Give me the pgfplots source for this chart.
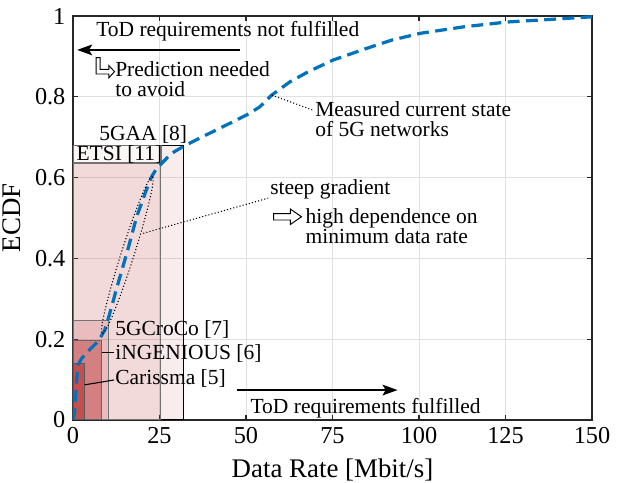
\documentclass[border=0pt]{standalone}
\usepackage{fontspec}
\setmainfont{Liberation Serif}
\usepackage{pgfplots}
\pgfplotsset{compat=1.18}
\usetikzlibrary{arrows.meta,shapes.geometric}

\definecolor{matblue}{RGB}{0,114,189}
\definecolor{boxred}{RGB}{192,64,64}
\definecolor{axgray}{RGB}{38,38,38}

% small hollow arrows used in the annotations
\newcommand{\hookarrow}{\tikz[baseline={(0,-2.3pt)},line width=0.45pt]{\draw (0,6.5pt)--(0,-1.1pt)--(6pt,-1.1pt)--(6pt,-2.8pt)--(8.6pt,0)--(6pt,2.8pt)--(6pt,1.1pt)--(1.9pt,1.1pt)--(1.9pt,6.5pt)--cycle;}}
\newcommand{\hollowarrow}{\tikz[line width=0.45pt]{\draw (0,1.5pt)--(7.8pt,1.5pt)--(7.8pt,3.6pt)--(13pt,0)--(7.8pt,-3.6pt)--(7.8pt,-1.5pt)--(0,-1.5pt)--cycle;}}

\begin{document}
\begin{tikzpicture}
\begin{axis}[
    scale only axis,
    width=241.4pt, height=187.9pt,
    xmin=0, xmax=150, ymin=0, ymax=1,
    xtick={0,25,...,150},
    ytick={0,0.2,0.4,0.6,0.8,1},
    yticklabels={0,0.2,0.4,0.6,0.8,1},
    grid=major,
    major grid style={draw=black!12, line width=0.4pt},
    axis line style={draw=axgray, line width=0.5pt},
    tick style={draw=axgray, line width=0.5pt},
    major tick length=2.5pt,
    tick align=inside,
    /pgf/number format/assume math mode=true,
    ticklabel style={font=\fontsize{11.3}{13}\selectfont},
    label style={font=\fontsize{12.5}{15}\selectfont},
    xlabel={Data Rate [Mbit/s]},
    ylabel={ECDF},
    every node near coord/.style={},
]

% requirement boxes (largest first)
\addplot[fill=boxred, fill opacity=0.1, draw=black, line width=0.5pt]
    coordinates {(0,0) (32,0) (32,0.68) (0,0.68)} -- cycle;
\addplot[fill=boxred, fill opacity=0.1, draw=black!55, line width=0.5pt]
    coordinates {(0,0) (25.3,0) (25.3,0.636) (0,0.636)} -- cycle;
\addplot[fill=boxred, fill opacity=0.19, draw=black!55, line width=0.5pt]
    coordinates {(0,0) (10.2,0) (10.2,0.247) (0,0.247)} -- cycle;
\addplot[fill=boxred, fill opacity=0.49, draw=black!60, line width=0.5pt]
    coordinates {(0,0) (8.3,0) (8.3,0.197) (0,0.197)} -- cycle;
\addplot[fill=boxred, fill opacity=0.78, draw=black!65, line width=0.5pt]
    coordinates {(0,0) (3.4,0) (3.4,0.14) (0,0.14)} -- cycle;

% ETSI label box
\addplot[fill=white, fill opacity=0.6, draw=black!55, line width=0.5pt]
    coordinates {(0,0.636) (25.6,0.636) (25.6,0.68) (0,0.68)} -- cycle;
\node[anchor=base west, inner sep=0] at (axis cs:0.9,0.642) {ETSI [11]};
\node[anchor=base west, inner sep=0] at (axis cs:7.5,0.693) {5GAA [8]};

% measured ECDF
\addplot[matblue, line width=1.5pt, dash pattern=on 5.5pt off 3pt] coordinates {
    (0,0) (0.5,0.02) (1.0,0.09) (1.4,0.136) (2.5,0.152) (3.8,0.165)
    (5.3,0.178) (6.7,0.19) (8,0.205) (9.2,0.223) (10.5,0.26) (13.1,0.34)
    (15.8,0.42) (18.4,0.503) (20.8,0.56) (22.7,0.602) (24,0.62)
    (25.6,0.635) (28.5,0.66) (31.9,0.677) (36,0.695) (40.5,0.714)
    (45,0.733) (50.2,0.755) (54,0.775) (57.4,0.804) (62.7,0.837)
    (68,0.862) (75.2,0.891) (84.9,0.920) (92,0.94) (100.3,0.957)
    (112.8,0.973) (125.3,0.985) (136.9,0.991) (150,0.998)
};

% box labels
\node[anchor=base west, inner sep=0] at (axis cs:12.1,0.210) {5GCroCo [7]};
\draw[black, line width=0.5pt] (axis cs:8.3,0.168) -- (axis cs:11.9,0.168);
\node[anchor=base west, inner sep=0] at (axis cs:12.1,0.150) {iNGENIOUS [6]};
\draw[black, line width=0.5pt] (axis cs:3.4,0.087) -- (axis cs:11.9,0.099);
\node[anchor=base west, inner sep=0] at (axis cs:12.1,0.087) {Carissma [5]};

% top annotation
\node[anchor=base west, inner sep=0] at (axis cs:6.6,0.949) {ToD requirements not fulfilled};
\draw[-{Stealth[length=7pt,width=5pt,inset=1.5pt]}, line width=0.6pt] (axis cs:48.3,0.916) -- (axis cs:1.2,0.916);
\node[anchor=base west, inner sep=0] at (axis cs:6.4,0.850) {\hookarrow};
\node[anchor=base west, inner sep=0] at (axis cs:12.1,0.850) {Prediction needed};
\node[anchor=base west, inner sep=0] at (axis cs:12.1,0.800) {to avoid};

% measured state annotation
\draw[densely dotted, line width=0.5pt] (axis cs:57.5,0.804) -- (axis cs:69.3,0.767);
\node[anchor=base west, inner sep=0] at (axis cs:69.9,0.751) {Measured current state};
\node[anchor=base west, inner sep=0] at (axis cs:69.9,0.701) {of 5G networks};

% steep gradient annotation
\node[draw, densely dotted, line width=0.5pt, ellipse, inner sep=0, minimum width=77pt, minimum height=6pt, rotate=72.3] at (axis cs:15.7,0.408) {};
\draw[densely dotted, line width=0.5pt] (axis cs:20.3,0.462) -- (axis cs:56.4,0.549);
\node[anchor=base west, inner sep=0] at (axis cs:56.9,0.557) {steep gradient};
\node[inner sep=0] at (axis cs:62.0,0.503) {\hollowarrow};
\node[anchor=base west, inner sep=0] at (axis cs:67.1,0.487) {high dependence on};
\node[anchor=base west, inner sep=0] at (axis cs:67.1,0.436) {minimum data rate};

% bottom annotation
\draw[-{Stealth[length=7pt,width=5pt,inset=1.5pt]}, line width=0.6pt] (axis cs:47.3,0.074) -- (axis cs:93.8,0.074);
\node[anchor=base west, inner sep=0] at (axis cs:51.2,0.017) {ToD requirements fulfilled};
\end{axis}
\pgfresetboundingbox
\path (current axis.south west) ++(-33.95pt,-29.3pt) coordinate (bl);
\path (current axis.north east) ++(12.1pt,7.44pt) coordinate (tr);
\useasboundingbox (bl) rectangle (tr);
\end{tikzpicture}
\end{document}
